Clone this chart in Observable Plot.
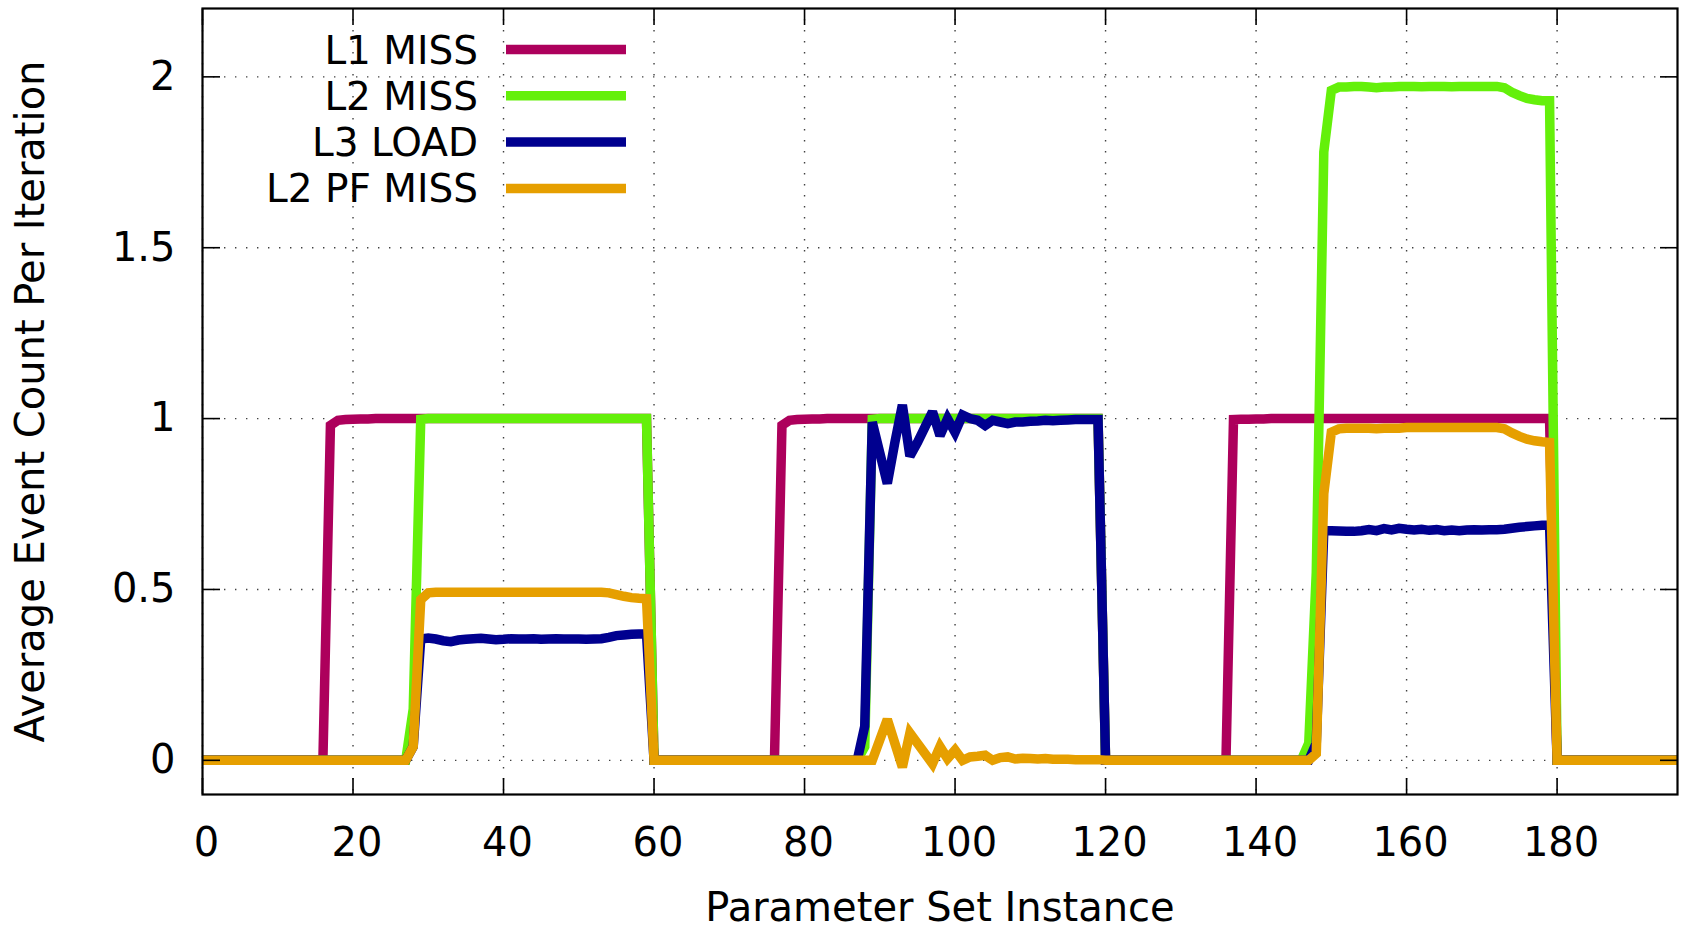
<!DOCTYPE html>
<html><head><meta charset="utf-8">
<script src="https://cdn.jsdelivr.net/npm/d3@7"></script>
<script src="https://cdn.jsdelivr.net/npm/@observablehq/plot@0.6"></script>
<style>html,body{margin:0;padding:0;background:#fff;} #chart svg{display:block;}</style>
</head><body><div id="chart"></div>
<script>
const seriesNames = ["L1 MISS", "L2 MISS", "L3 LOAD", "L2 PF MISS"];
const seriesColors = ["#ad005c", "#64f00a", "#00008f", "#e69f00"];

// values indexed by parameter set instance 0..196
const l1Miss = [
  0,0,0,0,0,0,0,0,0,0,
  0,0,0,0,0,0,0,0.98,0.995,0.997,
  0.998,0.999,0.999,1,1,1,1,1,1,1,
  1,1,1,1,1,1,1,1,1,1,
  1,1,1,1,1,1,1,1,1,1,
  1,1,1,1,1,1,1,1,1,1,
  0,0,0,0,0,0,0,0,0,0,
  0,0,0,0,0,0,0,0.98,0.995,0.997,
  0.998,0.999,0.999,1,1,1,1,1,1,1,
  1,1,1,1,1,1,1,1,1,1,
  1,1,1,1,1,1,1,1,1,1,
  1,1,1,1,1,1,1,1,1,1,
  0,0,0,0,0,0,0,0,0,0,
  0,0,0,0,0,0,0,0.997,0.998,0.998,
  0.999,0.999,1,1,1,1,1,1,1,1,
  1,1,1,1,1,1,1,1,1,1,
  1,1,1,1,1,1,1,1,1,1,
  1,1,1,1,1,1,1,1,1,1,
  0,0,0,0,0,0,0,0,0,0,
  0,0,0,0,0,0,0
];
const l2Miss = [
  0,0,0,0,0,0,0,0,0,0,
  0,0,0,0,0,0,0,0,0,0,
  0,0,0,0,0,0,0,0,0.15,0.998,
  1,1,1,1,1,1,1,1,1,1,
  1,1,1,1,1,1,1,1,1,1,
  1,1,1,1,1,1,1,1,1,1,
  0,0,0,0,0,0,0,0,0,0,
  0,0,0,0,0,0,0,0,0,0,
  0,0,0,0,0,0,0,0,0.04,0.998,
  1,1,1,1,1,1,1,1,1,1,
  1,1,1,1,1,1,1,1,1,1,
  1,1,1,1,1,1,1,1,1,1,
  0,0,0,0,0,0,0,0,0,0,
  0,0,0,0,0,0,0,0,0,0,
  0,0,0,0,0,0,0,0.05,0.55,1.78,
  1.96,1.97,1.97,1.972,1.972,1.97,1.968,1.97,1.97,1.972,
  1.972,1.972,1.971,1.972,1.972,1.972,1.971,1.972,1.972,1.972,
  1.972,1.972,1.972,1.968,1.955,1.945,1.937,1.933,1.93,1.93,
  0,0,0,0,0,0,0,0,0,0,
  0,0,0,0,0,0,0
];
const l3Load = [
  0,0,0,0,0,0,0,0,0,0,
  0,0,0,0,0,0,0,0,0,0,
  0,0,0,0,0,0,0,0,0.04,0.355,
  0.358,0.355,0.35,0.347,0.352,0.354,0.356,0.357,0.355,0.353,
  0.354,0.356,0.355,0.355,0.356,0.354,0.355,0.356,0.355,0.355,
  0.355,0.354,0.355,0.356,0.36,0.365,0.367,0.369,0.37,0.37,
  0,0,0,0,0,0,0,0,0,0,
  0,0,0,0,0,0,0,0,0,0,
  0,0,0,0,0,0,0,0,0.1,0.99,
  0.9,0.81,0.93,1.04,0.89,0.93,0.975,1.02,0.95,1.0,
  0.96,1.01,1.0,0.995,0.98,0.995,0.99,0.985,0.99,0.99,
  0.992,0.993,0.995,0.994,0.995,0.996,0.997,0.997,0.997,0.997,
  0,0,0,0,0,0,0,0,0,0,
  0,0,0,0,0,0,0,0,0,0,
  0,0,0,0,0,0,0,0,0.05,0.672,
  0.672,0.671,0.67,0.67,0.672,0.675,0.672,0.678,0.674,0.679,
  0.676,0.674,0.676,0.673,0.675,0.672,0.674,0.672,0.674,0.675,
  0.674,0.675,0.675,0.676,0.679,0.682,0.684,0.686,0.688,0.688,
  0,0,0,0,0,0,0,0,0,0,
  0,0,0,0,0,0,0
];
const l2PfMiss = [
  0,0,0,0,0,0,0,0,0,0,
  0,0,0,0,0,0,0,0,0,0,
  0,0,0,0,0,0,0,0,0.04,0.47,
  0.49,0.492,0.492,0.492,0.492,0.492,0.492,0.492,0.492,0.492,
  0.492,0.492,0.492,0.492,0.492,0.492,0.492,0.492,0.492,0.492,
  0.492,0.492,0.492,0.492,0.49,0.485,0.48,0.476,0.474,0.473,
  0,0,0,0,0,0,0,0,0,0,
  0,0,0,0,0,0,0,0,0,0,
  0,0,0,0,0,0,0,0,0,0,
  0.06,0.12,0.05,-0.02,0.08,0.05,0.02,-0.01,0.04,0.005,
  0.03,0.0,0.01,0.012,0.015,0.0,0.008,0.01,0.004,0.006,
  0.005,0.004,0.005,0.003,0.003,0.003,0.002,0.002,0.002,0.002,
  0,0,0,0,0,0,0,0,0,0,
  0,0,0,0,0,0,0,0,0,0,
  0,0,0,0,0,0,0,0,0.02,0.78,
  0.96,0.97,0.972,0.972,0.972,0.972,0.97,0.972,0.972,0.972,
  0.974,0.974,0.974,0.974,0.974,0.974,0.974,0.974,0.974,0.974,
  0.974,0.974,0.974,0.97,0.958,0.948,0.94,0.935,0.932,0.93,
  0,0,0,0,0,0,0,0,0,0,
  0,0,0,0,0,0,0
];

const xTicks = [0, 20, 40, 60, 80, 100, 120, 140, 160, 180];
const yTicks = [0, 0.5, 1, 1.5, 2];
const yTickLabels = ["0", "0.5", "1", "1.5", "2"];
const xLabel = "Parameter Set Instance";
const yLabel = "Average Event Count Per Iteration";

const seriesValues = [l1Miss, l2Miss, l3Load, l2PfMiss];
const font = "'DejaVu Sans', sans-serif";

const gridStyle = {stroke: "#000", strokeOpacity: 0.75, strokeWidth: 1.4, strokeDasharray: "1.4,9.6"};

const chart = Plot.plot({
  width: 1681, height: 929,
  marginLeft: 202, marginRight: 4, marginTop: 8, marginBottom: 135,
  style: {fontFamily: font, background: "#fff", color: "#000", overflow: "visible"},
  x: {domain: [0, 196]},
  y: {domain: [-0.1, 2.2]},
  color: {domain: seriesNames, range: seriesColors},
  marks: [
    Plot.gridX(xTicks, gridStyle),
    Plot.gridY(yTicks, gridStyle),
    ...seriesValues.map((vals, s) =>
      Plot.line(vals.map((v, i) => ({series: seriesNames[s], x: i, y: v})), {
        x: "x", y: "y", stroke: "series", strokeWidth: 9.5,
        strokeLinejoin: "miter", strokeMiterlimit: 2.5, clip: true
      })
    ),
    Plot.axisX(xTicks, {anchor: "bottom", tickSize: -16, fill: "none", label: null, strokeWidth: 1.6}),
    Plot.axisX(xTicks, {anchor: "top", tickSize: -16, fill: "none", label: null, strokeWidth: 1.6}),
    Plot.axisX(xTicks, {anchor: "bottom", tickSize: 0, tickPadding: 33, dx: 4, fontSize: 40, label: null, tickFormat: d => String(d)}),
    Plot.axisY(yTicks, {anchor: "left", tickSize: -18, fill: "none", label: null, strokeWidth: 1.6}),
    Plot.axisY(yTicks, {anchor: "right", tickSize: -18, fill: "none", label: null, strokeWidth: 1.6}),
    Plot.axisY(yTicks, {anchor: "left", tickSize: 0, tickPadding: 27, fontSize: 40, label: null, tickFormat: d => yTickLabels[yTicks.indexOf(d)]}),
    Plot.frame({stroke: "#000", strokeWidth: 2.2}),
    Plot.text([xLabel], {frameAnchor: "bottom", lineAnchor: "bottom", dy: 126, fontSize: 40, fill: "#000"}),
    Plot.text([yLabel], {frameAnchor: "left", textAnchor: "middle", lineAnchor: "middle", dx: -171, rotate: -90, fontSize: 40, fill: "#000"})
  ]
});

// in-plot legend (top-left), drawn with d3 on the Plot SVG
const svg = d3.select(chart);
const lg = svg.append("g").attr("font-family", font).attr("font-size", 39);
seriesNames.forEach((name, i) => {
  const y = 49.5 + i * 46.3;
  lg.append("text").attr("x", 478).attr("y", y).attr("dy", "0.36em")
    .attr("text-anchor", "end").attr("fill", "#000").text(name);
  lg.append("line").attr("x1", 506).attr("x2", 626).attr("y1", y).attr("y2", y)
    .attr("stroke", seriesColors[i]).attr("stroke-width", 9.5);
});

document.getElementById("chart").appendChild(chart);
</script>
</body></html>
